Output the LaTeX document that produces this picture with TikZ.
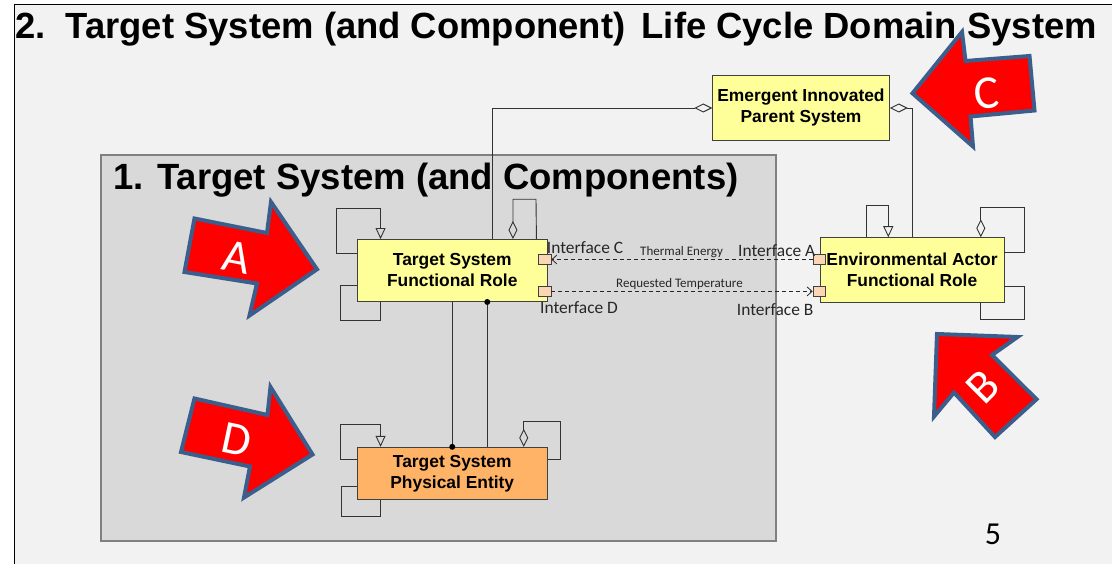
\documentclass[tikz,border=0pt]{standalone}
\usepackage{fontspec}
\setmainfont{Liberation Sans}
\newfontfamily\calfont{Carlito}
\usetikzlibrary{arrows.meta}
\definecolor{slidebg}{HTML}{F2F2F2}
\definecolor{panelbg}{HTML}{D9D9D9}
\definecolor{panelline}{HTML}{808080}
\definecolor{rolefill}{HTML}{FFFF99}
\definecolor{entityfill}{HTML}{FFB366}
\definecolor{portfill}{HTML}{FCD5B4}
\definecolor{boxline}{HTML}{404040}
\definecolor{callred}{HTML}{FF0000}
\definecolor{callline}{HTML}{3B5E8C}

\begin{document}
\begin{tikzpicture}[x=1pt,y=-1pt,
  block/.style={draw=boxline, line width=0.9pt, inner sep=0pt, align=center,
    font=\bfseries\fontsize{17.4}{21}\selectfont},
  role/.style={block, fill=rolefill},
  entity/.style={block, fill=entityfill},
  port/.style={draw=boxline, line width=0.8pt, fill=portfill, inner sep=0pt,
    minimum width=12.5pt, minimum height=10.5pt},
  conn/.style={draw=black!80, line width=0.9pt},
  aggr/.style={conn, {Diamond[open, length=18pt, width=9pt]}-},
  gen/.style={conn, -{Triangle[open, length=11pt, width=10pt]}},
  flow/.style={draw=black!85, line width=0.8pt, dash pattern=on 4pt off 3pt,
    -{Straight Barb[length=5pt, width=9pt]}},
  iflabel/.style={inner sep=0pt, anchor=base west, text=black!85,
    font=\calfont\fontsize{17.4}{20}\selectfont},
  flowlabel/.style={inner sep=0pt, anchor=base west, text=black!85,
    font=\calfont\fontsize{13}{15}\selectfont},
  callout/.style={fill=callred, draw=callline, line width=4pt, line join=miter},
  calloutletter/.style={text=white, inner sep=0pt, font=\calfont\fontsize{47}{50}\selectfont},
]
\useasboundingbox (0,0) rectangle (1112,564);
\fill[white] (0,0) rectangle (1112,564);

% slide frame and headline
\draw[fill=slidebg, draw=black, line width=1pt] (14,5) rectangle (1130,580);
\node[inner sep=0pt, anchor=base west, font=\bfseries\fontsize{36.4}{44}\selectfont]
  (headline) at (15,39) {2.\ \ Target System (and Component)\hspace{0.45em}Life Cycle Domain System};

% inner panel
\draw[fill=panelbg, draw=panelline, line width=1.3pt] (101,155) rectangle (776,541);
\node[inner sep=0pt, anchor=base west, font=\bfseries\fontsize{36.5}{44}\selectfont]
  (paneltitle) at (113,190) {1. Target System (and Components)};

% blocks
\node[role, minimum width=190.5pt, minimum height=62pt] (tsfr) at (452.25,270.5)
  {Target System\\Functional Role};
\node[entity, minimum width=190.5pt, minimum height=52.2pt] (tspe) at (452.25,473.4)
  {Target System\\Physical Entity};
\node[role, minimum width=184pt, minimum height=65pt] (eafr) at (912,270.2)
  {Environmental Actor\\Functional Role};
\node[role, minimum width=176.6pt, minimum height=65.4pt] (eips) at (801,108)
  {Emergent Innovated\\Parent System};

% ports
\node[port] (portC) at (544.7,259.5) {};
\node[port] (portD) at (544.7,291.4) {};
\node[port] (portA) at (819.3,259.5) {};
\node[port] (portB) at (819.3,291.4) {};

% parent system aggregation
\draw[aggr] (eips.west) -| ([xshift=40pt]tsfr.north);
\draw[aggr] (eips.east) -| (eafr.north);

% functional role self relations
\draw[gen] ([yshift=-14.5pt]tsfr.north west) -| (336,208.3) -| ([xshift=24pt]tsfr.north west);
\draw[conn] ([yshift=-46.5pt]tsfr.north west) -| (340,320) -| ([xshift=24pt]tsfr.south west);
\draw[aggr] ([xshift=-35pt]tsfr.north east) |- (536,199.3) -- ([xshift=-11.5pt]tsfr.north east);

% role to physical entity
\draw[conn] (tsfr.south) -- (tspe.north);
\fill[black] (tspe.north) circle (3pt);
\draw[conn] ([xshift=35pt]tsfr.south) -- ([xshift=35pt]tspe.north);
\fill[black] ([xshift=35pt]tsfr.south) circle (3pt);

% physical entity self relations
\draw[gen] ([yshift=-12.7pt]tspe.north west) -| (340.7,424.3) -| ([xshift=24pt]tspe.north west);
\draw[conn] ([yshift=-39.4pt]tspe.north west) -| (341.7,516.7) -| ([xshift=24pt]tspe.south west);
\draw[aggr] ([xshift=-24.2pt]tspe.north east) |- (560.7,421) |- ([yshift=-12.7pt]tspe.north east);

% environmental actor self relations
\draw[gen] ([xshift=-46pt]eafr.north) |- (888.3,205) -- ([xshift=-23.7pt]eafr.north);
\draw[aggr] ([xshift=-23.7pt]eafr.north east) |- (1024.3,207.3) |- ([yshift=-15.6pt]eafr.north east);
\draw[conn] ([yshift=-49pt]eafr.north east) -| (1024.3,319.3) -| ([xshift=-23.7pt]eafr.south east);

% interface flows
\draw[flow] (portA.west) -- (portC.east);
\draw[flow] (portD.east) -- (portB.west);
\node[iflabel] (lblC) at (546.7,254) {Interface C};
\node[iflabel] (lblA) at (738,256.7) {Interface A};
\node[iflabel] (lblD) at (540,313.3) {Interface D};
\node[iflabel] (lblB) at (736.7,315.7) {Interface B};
\node[flowlabel] (thermal) at (640,256) {Thermal Energy};
\node[flowlabel] (request) at (616,287.7) {Requested Temperature};

% callout arrows
\draw[callout] (194.5,218.5) -- (267,233) -- (271,202) -- (317,269.3) -- (249.5,315.5)
  -- (257,283.5) -- (184.5,272) -- cycle;
\node[calloutletter, rotate=-11] (letA) at (237,257) {A};

\draw[callout] (194.5,398.5) -- (267.5,415) -- (270.5,387) -- (312.5,454.5) -- (244,497.5)
  -- (250,466.5) -- (181,452) -- cycle;
\node[calloutletter, rotate=-12] (letD) at (237,440) {D};

\draw[callout] (912.5,93.3) -- (962,32) -- (965.5,61) -- (1029.5,56) -- (1034.5,110.5)
  -- (970.5,116.5) -- (973,146.5) -- cycle;
\node[calloutletter, rotate=5] (letC) at (987,93) {C};

\draw[callout] (937,334) -- (1017.5,337) -- (992,355) -- (1036.5,399.3) -- (995,437)
  -- (954,392.5) -- (934,416.5) -- cycle;
\node[calloutletter, rotate=45] (letB) at (983.3,386.7) {B};

% page number
\node[inner sep=0pt, font=\calfont\fontsize{32}{36}\selectfont] (pagenum) at (993,534) {5};
\end{tikzpicture}
\end{document}
